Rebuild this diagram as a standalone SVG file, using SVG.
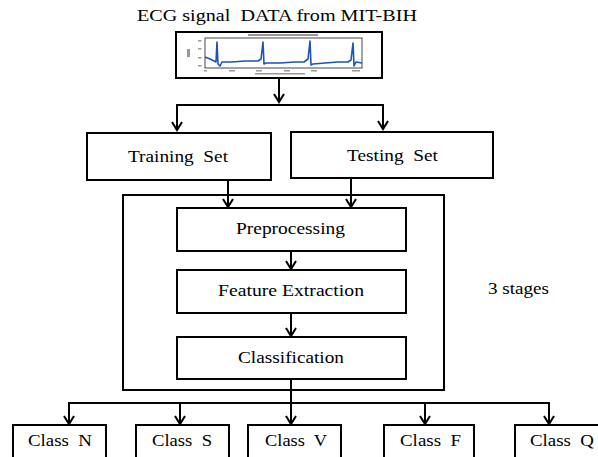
<svg xmlns="http://www.w3.org/2000/svg" width="598" height="457" viewBox="0 0 598 457">
  <style>
    .box { fill: #fff; stroke: #000; stroke-width: 2; }
    .lbl { font-family: "Liberation Serif", "Times New Roman", serif; font-size: 16.5px; fill: #000; }
    .wire { fill: none; stroke: #000; stroke-width: 2; }
    .arr { fill: none; stroke: #000; stroke-width: 2; marker-end: url(#chev); }
    .tick { fill: #444; opacity: 0.55; }
  </style>
  <defs>
    <marker id="chev" viewBox="-10 -7 12 14" refX="0" refY="0" markerWidth="12" markerHeight="14" markerUnits="userSpaceOnUse" orient="auto">
      <path d="M-8,-5 L0,0 L-8,5" fill="none" stroke="#000" stroke-width="2"/>
    </marker>
  </defs>

  <rect width="598" height="457" fill="#fff"/>

  <!-- Source data -->
  <g id="source">
    <text class="lbl" x="137" y="21" textLength="280" lengthAdjust="spacingAndGlyphs" xml:space="preserve">ECG signal  DATA from MIT-BIH</text>
    <rect class="box" x="176" y="32" width="206" height="46"/>
    <!-- ECG plot -->
    <rect x="205" y="38" width="157" height="30" fill="none" stroke="#333" stroke-width="0.9"/>
    <rect class="tick" x="248" y="34" width="70" height="2"/>
    <rect class="tick" x="198" y="40" width="3.5" height="1.5"/>
    <rect class="tick" x="198" y="48" width="3.5" height="1.5"/>
    <rect class="tick" x="198" y="57" width="3.5" height="1.5"/>
    <rect class="tick" x="198" y="65" width="3.5" height="1.5"/>
    <rect class="tick" x="187" y="49" width="3" height="8"/>
    <rect class="tick" x="204" y="70" width="3" height="1.5"/>
    <rect class="tick" x="229" y="70" width="6" height="1.5"/>
    <rect class="tick" x="256" y="70" width="6" height="1.5"/>
    <rect class="tick" x="284" y="70" width="6" height="1.5"/>
    <rect class="tick" x="311" y="70" width="6" height="1.5"/>
    <rect class="tick" x="352" y="70" width="8" height="1.5"/>
    <rect class="tick" x="255" y="73" width="50" height="1.5"/>
    <path d="M205,57 L210,59 L214,61 L216,62 L217,42 L218,64 L220,66 L222,62 L232,62 L245,61 L258,61 L261,59 L263,42 L264,64 L266,63 L280,63 L295,62 L304,62 L308,59 L310,41 L311,65 L313,64 L325,63 L338,62 L348,62 L351,60 L353,43 L354,66 L356,62 L362,63"
          fill="none" stroke="#1a56b8" stroke-width="1.6" stroke-linejoin="round"/>
  </g>

  <!-- Data split -->
  <g id="training-set">
    <rect class="box" x="87" y="133" width="184" height="47"/>
    <text class="lbl" x="128" y="162" textLength="100" lengthAdjust="spacingAndGlyphs" xml:space="preserve">Training  Set</text>
  </g>
  <g id="testing-set">
    <rect class="box" x="291" y="132" width="202" height="46"/>
    <text class="lbl" x="347" y="161" textLength="91" lengthAdjust="spacingAndGlyphs" xml:space="preserve">Testing  Set</text>
  </g>

  <!-- Processing pipeline -->
  <g id="stages">
    <rect x="123" y="195" width="321" height="195" fill="none" stroke="#000" stroke-width="2"/>
    <text class="lbl" x="488" y="294" textLength="61" lengthAdjust="spacingAndGlyphs" xml:space="preserve">3 stages</text>
  </g>
  <g id="preprocessing">
    <rect class="box" x="177" y="208" width="229" height="43"/>
    <text class="lbl" x="236" y="234" textLength="109" lengthAdjust="spacingAndGlyphs">Preprocessing</text>
  </g>
  <g id="feature-extraction">
    <rect class="box" x="177" y="270" width="229" height="43"/>
    <text class="lbl" x="218" y="296" textLength="146" lengthAdjust="spacingAndGlyphs" xml:space="preserve">Feature Extraction</text>
  </g>
  <g id="classification">
    <rect class="box" x="177" y="337" width="229" height="42"/>
    <text class="lbl" x="238" y="363" textLength="106" lengthAdjust="spacingAndGlyphs">Classification</text>
  </g>

  <!-- Output classes -->
  <g id="class-n">
    <rect class="box" x="13" y="425" width="93" height="50"/>
    <text class="lbl" x="28" y="446" textLength="64" lengthAdjust="spacingAndGlyphs" xml:space="preserve">Class  N</text>
  </g>
  <g id="class-s">
    <rect class="box" x="136" y="425" width="93" height="50"/>
    <text class="lbl" x="152" y="446" textLength="60" lengthAdjust="spacingAndGlyphs" xml:space="preserve">Class  S</text>
  </g>
  <g id="class-v">
    <rect class="box" x="248" y="425" width="93" height="50"/>
    <text class="lbl" x="265" y="446" textLength="62" lengthAdjust="spacingAndGlyphs" xml:space="preserve">Class  V</text>
  </g>
  <g id="class-f">
    <rect class="box" x="384" y="425" width="90" height="50"/>
    <text class="lbl" x="400" y="446" textLength="61" lengthAdjust="spacingAndGlyphs" xml:space="preserve">Class  F</text>
  </g>
  <g id="class-q">
    <rect class="box" x="515" y="425" width="95" height="50"/>
    <text class="lbl" x="530" y="446" textLength="64" lengthAdjust="spacingAndGlyphs" xml:space="preserve">Class  Q</text>
  </g>

  <!-- Connectors -->
  <g id="connectors">
    <path class="arr" d="M279,78 V102"/>
    <path class="wire" d="M177,105 H383"/>
    <path class="arr" d="M177,104 V130"/>
    <path class="arr" d="M383,104 V129"/>
    <path class="arr" d="M228,180 V207"/>
    <path class="arr" d="M351,178 V207"/>
    <path class="arr" d="M291,251 V269"/>
    <path class="arr" d="M291,313 V336"/>
    <path class="arr" d="M291,379 V424"/>
    <path class="wire" d="M68,403 H550"/>
    <path class="arr" d="M69,402 V424"/>
    <path class="arr" d="M180,402 V424"/>
    <path class="arr" d="M425,402 V424"/>
    <path class="arr" d="M549,402 V424"/>
  </g>
</svg>
